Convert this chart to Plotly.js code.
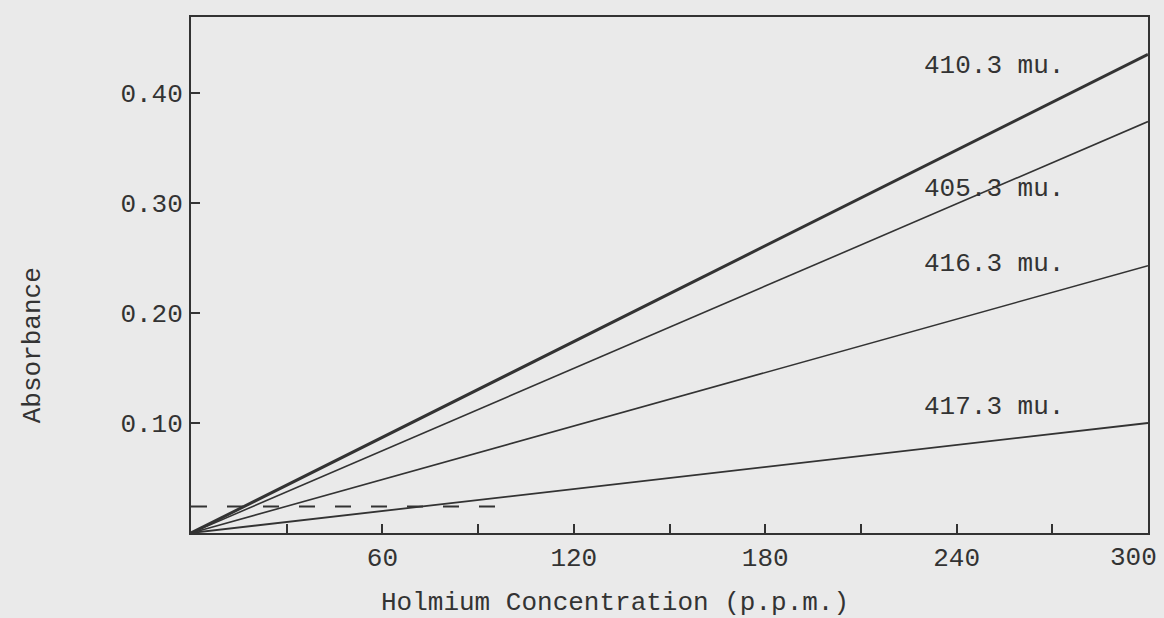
<!DOCTYPE html>
<html>
<head>
<meta charset="utf-8">
<script src="https://cdn.plot.ly/plotly-3.0.1.min.js"></script>
<style>
html,body{margin:0;padding:0;background:#eaeaea;}
#chart{width:1164px;height:618px;}
</style>
</head>
<body>
<div id="chart"></div>
<script>
// Data
const concentration = [0, 300];            // p.p.m.
const abs_410_3 = [0, 0.435];
const abs_405_3 = [0, 0.374];
const abs_416_3 = [0, 0.243];
const abs_417_3 = [0, 0.100];
const blankX = [0, 96];
const blankY = [0.024, 0.024];

const seriesNames = ["410.3 mu.", "405.3 mu.", "416.3 mu.", "417.3 mu."];
const labelX = [229, 229, 229, 229];
const labelY = [0.4245, 0.3127, 0.2445, 0.1145];

const xTickVals = [30, 60, 90, 120, 150, 180, 210, 240, 270, 300];
const xTickText = ["", "60", "", "120", "", "180", "", "240", "", ""];
const lastXTickLabel = "300";
const yTickVals = [0.10, 0.20, 0.30, 0.40];
const yTickText = ["0.10", "0.20", "0.30", "0.40"];

const ink = "#333333";
const font = "Liberation Mono, Courier New, monospace";

const line = (y, w) => ({
  x: concentration, y: y, type: "scatter", mode: "lines",
  line: {color: ink, width: w}, hoverinfo: "skip", showlegend: false
});

const traces = [
  line(abs_410_3, 3),
  line(abs_405_3, 1.6),
  line(abs_416_3, 1.6),
  line(abs_417_3, 1.8),
  {x: blankX, y: blankY, type: "scatter", mode: "lines",
   line: {color: ink, width: 2, dash: "16px,20px"}, hoverinfo: "skip", showlegend: false}
];

const annotations = seriesNames.map((n, i) => ({
  x: labelX[i], y: labelY[i], xref: "x", yref: "y",
  text: n, showarrow: false, xanchor: "left", yanchor: "middle",
  font: {family: font, size: 26, color: ink}
}));
// last x tick label, nudged left so it stays inside the page as in the reference
annotations.push({
  x: 1.0115, y: -0.0485, xref: "paper", yref: "paper",
  text: lastXTickLabel, showarrow: false, xanchor: "right", yanchor: "middle",
  font: {family: font, size: 26, color: ink}
});
annotations.push({
  x: 0.443, y: -0.136, xref: "paper", yref: "paper",
  text: "Holmium Concentration (p.p.m.)", showarrow: false,
  xanchor: "center", yanchor: "middle",
  font: {family: font, size: 26, color: ink}
});
annotations.push({
  x: -0.165, y: 0.364, xref: "paper", yref: "paper",
  text: "Absorbance", showarrow: false, textangle: -90,
  xanchor: "center", yanchor: "middle",
  font: {family: font, size: 26, color: ink}
});

const layout = {
  width: 1164, height: 618,
  margin: {l: 191, r: 16, t: 17, b: 85},
  paper_bgcolor: "#eaeaea", plot_bgcolor: "#eaeaea",
  font: {family: font, size: 26, color: ink},
  xaxis: {
    range: [0, 300], showgrid: false, zeroline: false,
    showline: true, linecolor: ink, linewidth: 2, mirror: true,
    ticks: "inside", ticklen: 9, tickwidth: 2, tickcolor: ink,
    tickmode: "array", tickvals: xTickVals, ticktext: xTickText,
    tickfont: {family: font, size: 26, color: ink},
    ticklabelstandoff: 0
  },
  yaxis: {
    range: [0, 0.469], showgrid: false, zeroline: false,
    showline: true, linecolor: ink, linewidth: 2, mirror: true,
    ticks: "inside", ticklen: 9, tickwidth: 2, tickcolor: ink,
    tickmode: "array", tickvals: yTickVals, ticktext: yTickText,
    tickfont: {family: font, size: 26, color: ink},
    ticklabelstandoff: 1
  },
  annotations: annotations
};

Plotly.newPlot("chart", traces, layout, {staticPlot: true, displayModeBar: false});
</script>
</body>
</html>
